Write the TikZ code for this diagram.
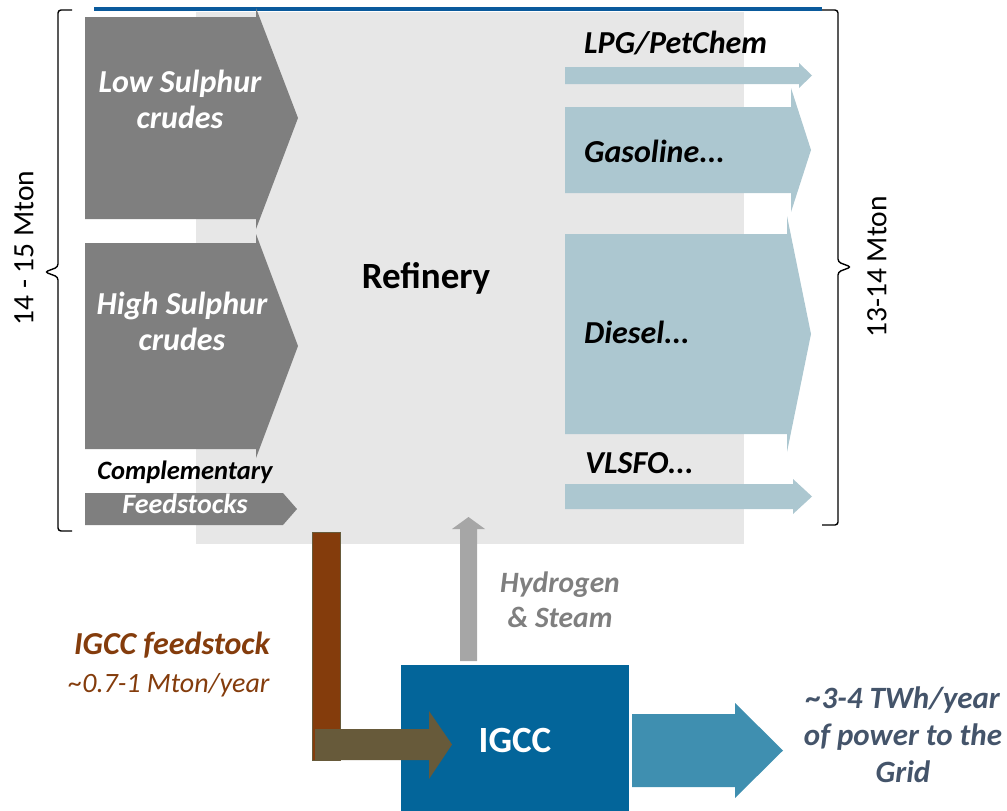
\documentclass[tikz,border=0pt]{standalone}
\usepackage{fontspec}
\setmainfont{Carlito}
\definecolor{refbg}{HTML}{E7E7E7}
\definecolor{crude}{HTML}{7F7F7F}
\definecolor{prod}{HTML}{ACC7D0}
\definecolor{topline}{HTML}{0A5A9C}
\definecolor{igccblue}{HTML}{03659A}
\definecolor{powerblue}{HTML}{3F8FB0}
\definecolor{feedbrown}{HTML}{843C0C}
\definecolor{olive}{HTML}{675A3A}
\definecolor{hgray}{HTML}{A6A6A6}
\definecolor{slate}{HTML}{44546A}
\tikzset{
  lbl/.style={inner sep=0pt, font=\fontsize{32}{38}\selectfont\bfseries\itshape},
  brace/.style={draw=black, line width=1.4pt, rounded corners=3pt},
}
\begin{document}
\begin{tikzpicture}[x=1pt,y=-1pt]
\useasboundingbox (0,0) rectangle (1007,811);
% refinery background
\fill[refbg] (196,12) rectangle (744,544);
\draw[topline, line width=4pt] (94,9) -- (822,9);
% crude arrows
\fill[crude] (85,17) -- (256,17) -- (256,8) -- (298,118) -- (256,229) -- (256,219) -- (85,219) -- cycle;
\fill[crude] (85,243) -- (256,243) -- (256,234) -- (298,346) -- (256,458) -- (256,449) -- (85,449) -- cycle;
\fill[crude] (85,493) -- (283,493) -- (297,509) -- (283,525) -- (85,525) -- cycle;
% product arrows
\fill[prod] (565,67) -- (799,67) -- (799,63) -- (812,75.5) -- (799,88) -- (799,84) -- (565,84) -- cycle;
\fill[prod] (565,107) -- (791,107) -- (791,88) -- (811,150) -- (791,212) -- (791,193) -- (565,193) -- cycle;
\fill[prod] (565,234) -- (787,234) -- (787,216) -- (811,334) -- (787,452) -- (787,434) -- (565,434) -- cycle;
\fill[prod] (565,484) -- (793,484) -- (793,479) -- (812,496.5) -- (793,514) -- (793,509) -- (565,509) -- cycle;
% braces
\draw[brace] (72,10) -- (58,10) -- (58,267) -- (45,272) -- (58,277) -- (58,531) -- (72,531);
\draw[brace] (822,10) -- (838,10) -- (838,262) -- (851,267) -- (838,272) -- (838,525) -- (822,525);
% IGCC part
\fill[igccblue] (401,665) rectangle (629,811);
\fill[feedbrown, draw=olive, line width=0.8pt] (312,532) rectangle (340,760);
\fill[olive] (315,729) -- (429,729) -- (429,711) -- (452,744.5) -- (429,779) -- (429,760) -- (315,760) -- cycle;
\fill[hgray] (460,661) -- (460,529) -- (452,529) -- (468.5,517) -- (485,529) -- (477,529) -- (477,661) -- cycle;
\fill[powerblue] (632,714) -- (735,714) -- (735,703) -- (783,750.5) -- (735,798) -- (735,787) -- (632,787) -- cycle;
% texts
\node[lbl, white, anchor=base] (ls1) at (180,92) {Low Sulphur};
\node[lbl, white, anchor=base] (ls2) at (180,128) {crudes};
\node[lbl, white, anchor=base] (hs1) at (182,314) {High Sulphur};
\node[lbl, white, anchor=base] (hs2) at (182,350) {crudes};
\node[lbl, black, anchor=base, font=\fontsize{26.5}{32}\selectfont\bfseries\itshape] (cf1) at (185,479) {Complementary};
\node[lbl, white, anchor=base, font=\fontsize{28}{33}\selectfont\bfseries\itshape] (cf2) at (185,513) {Feedstocks};
\node[inner sep=0pt, anchor=base, font=\fontsize{37}{44}\selectfont\bfseries] (ref) at (426,288) {Refinery};
\node[lbl, black, anchor=base west] (lpg) at (584,53) {LPG/PetChem};
\node[lbl, black, anchor=base west] (gas) at (584,162) {Gasoline...};
\node[lbl, black, anchor=base west] (die) at (584,343) {Diesel...};
\node[lbl, black, anchor=base west] (vls) at (585,473) {VLSFO...};
\node[inner sep=0pt, rotate=90, font=\fontsize{29.5}{35}\selectfont] (lm) at (24,248) {14 - 15 Mton};
\node[inner sep=0pt, rotate=90, font=\fontsize{29.5}{35}\selectfont] (rm) at (877,267) {13-14 Mton};
\node[lbl, crude, anchor=base, font=\fontsize{29.5}{35}\selectfont\bfseries\itshape] (h1) at (560,592) {Hydrogen};
\node[lbl, crude, anchor=base, font=\fontsize{29.5}{35}\selectfont\bfseries\itshape] (h2) at (560,627) {\& Steam};
\node[inner sep=0pt, anchor=base, white, font=\fontsize{37}{44}\selectfont\bfseries] (igcc) at (515,752) {IGCC};
\node[lbl, feedbrown, anchor=base, font=\fontsize{32}{38}\selectfont\bfseries\itshape] (f1) at (172,654) {IGCC feedstock};
\node[inner sep=0pt, feedbrown, anchor=base, font=\fontsize{28}{33}\selectfont\itshape] (f2) at (169,692) {\textasciitilde0.7-1 Mton/year};
\node[lbl, slate, anchor=base, font=\fontsize{31}{37}\selectfont\bfseries\itshape] (p1) at (903,708) {\textasciitilde3-4 TWh/year};
\node[lbl, slate, anchor=base, font=\fontsize{31}{37}\selectfont\bfseries\itshape] (p2) at (903,745) {of power to the};
\node[lbl, slate, anchor=base, font=\fontsize{31}{37}\selectfont\bfseries\itshape] (p3) at (903,782) {Grid};
\end{tikzpicture}
\end{document}
